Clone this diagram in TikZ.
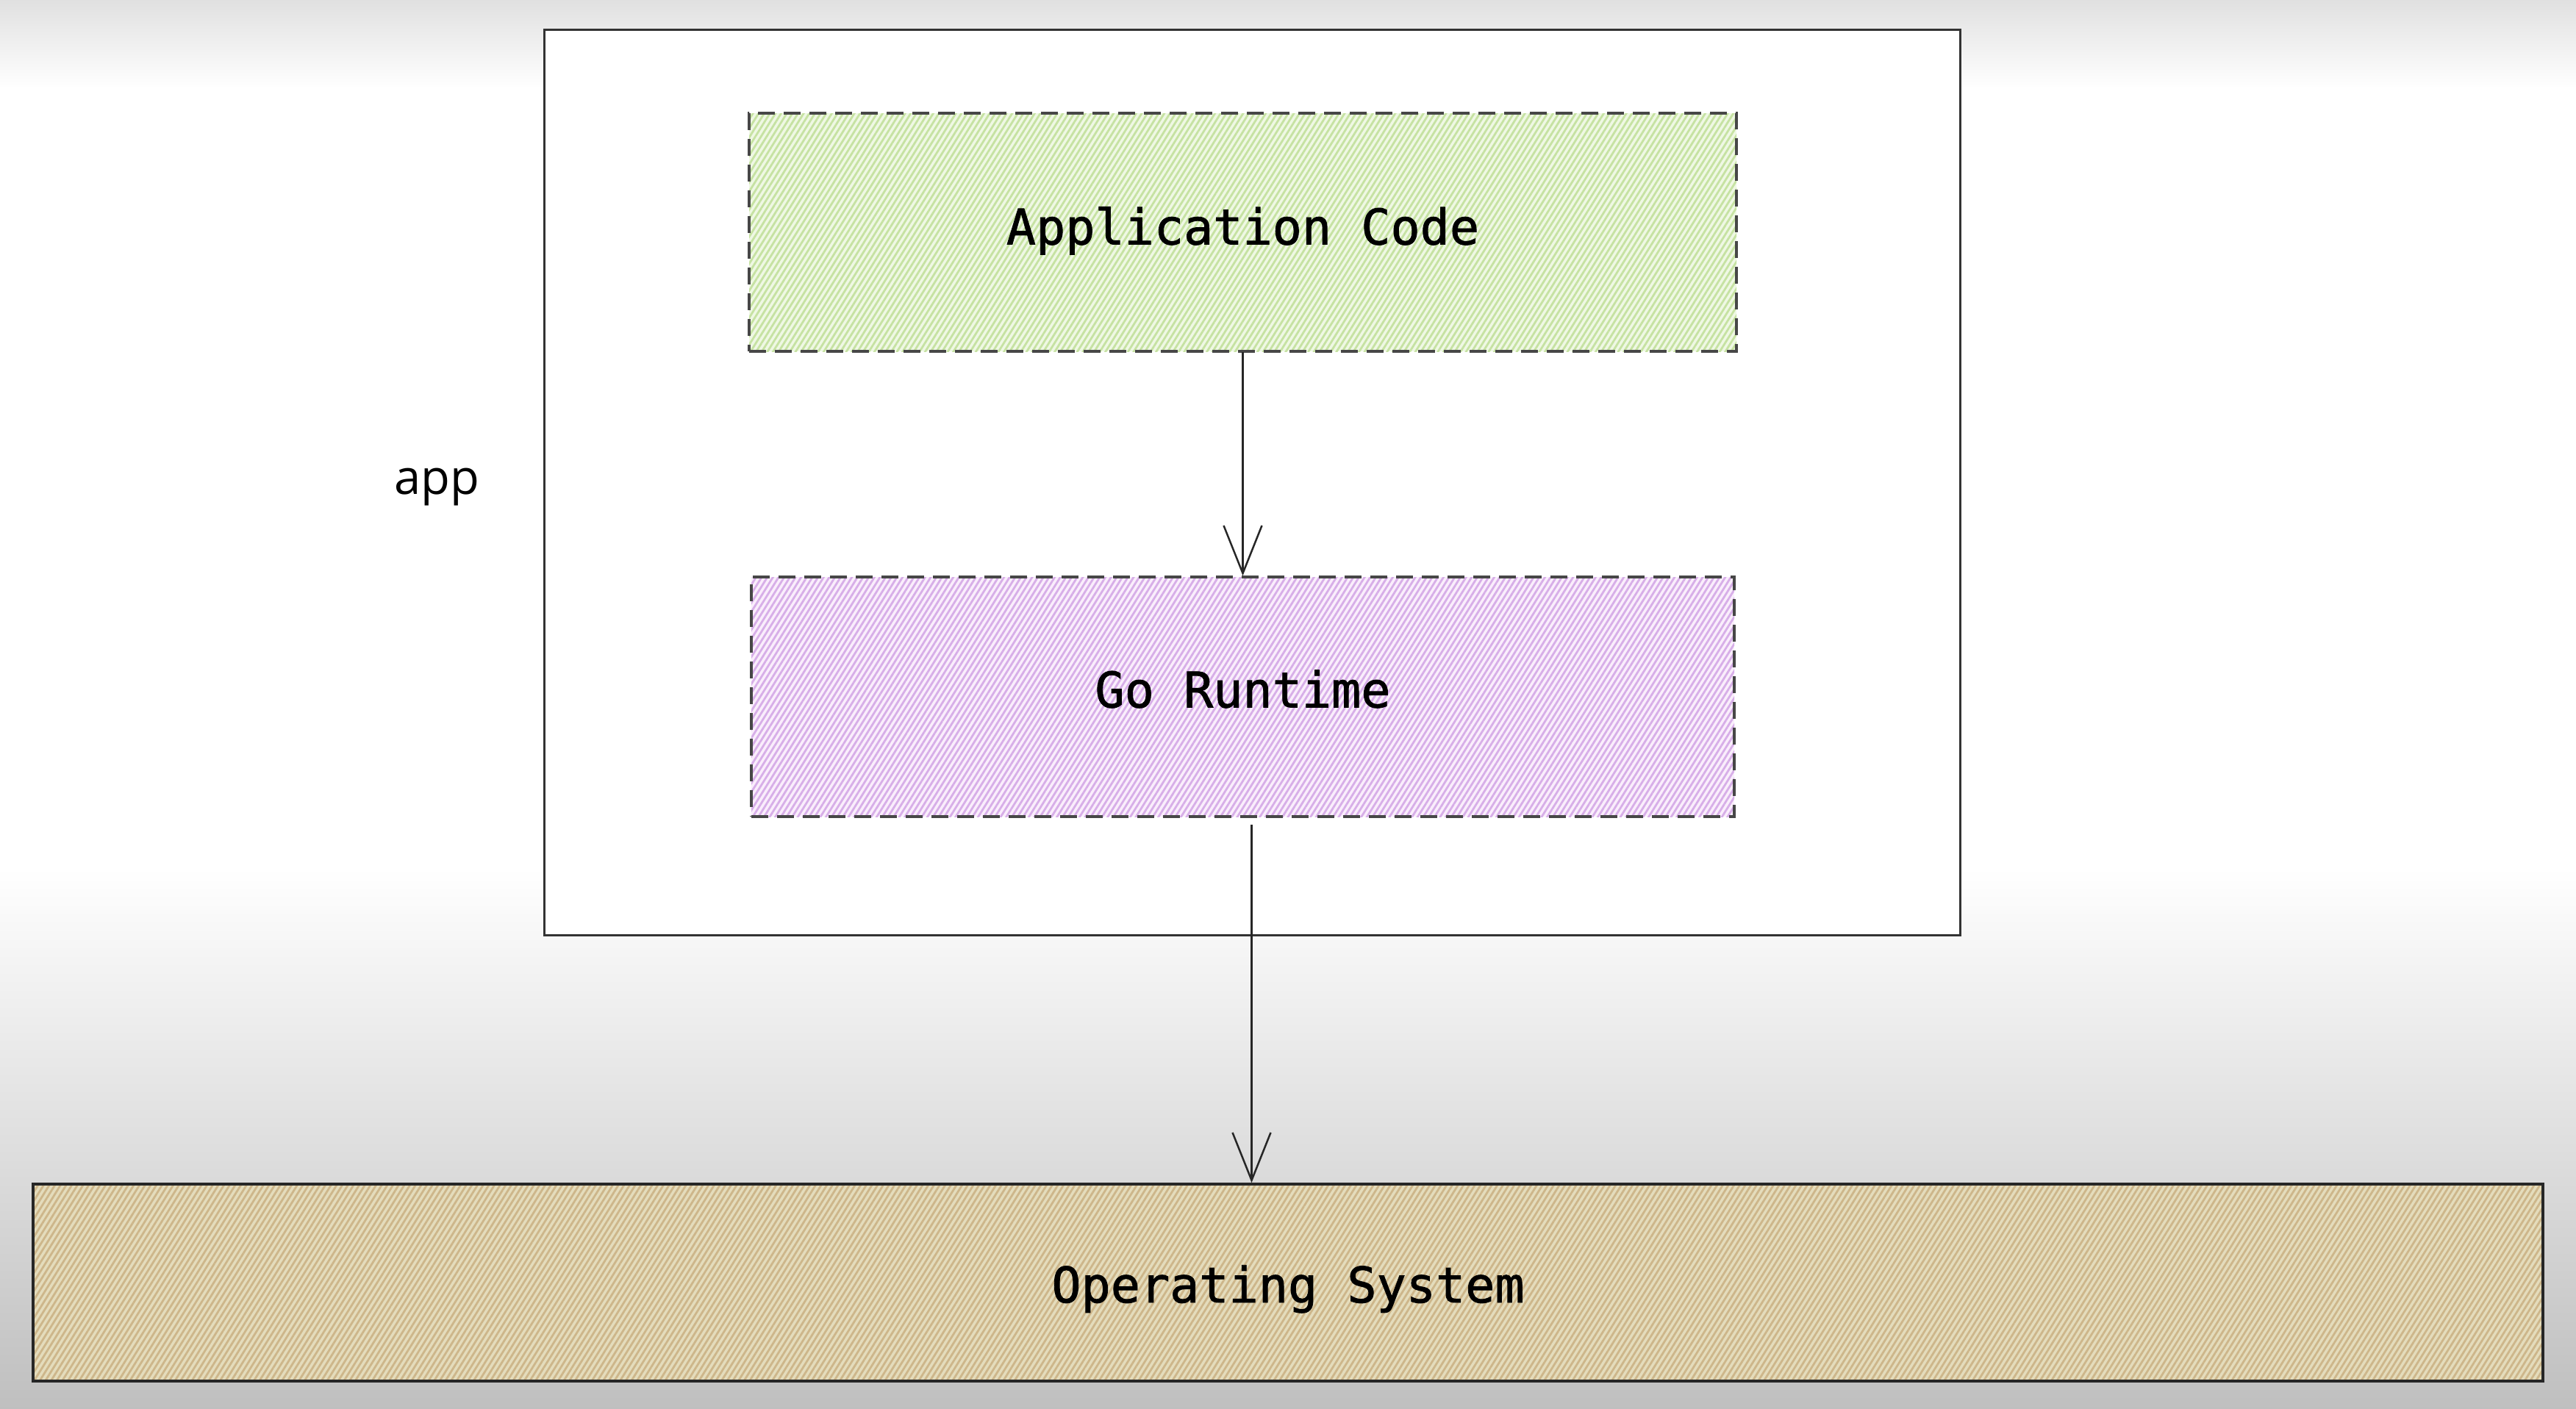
\documentclass[tikz,border=0pt]{standalone}
\usepackage{fontspec}
\setmonofont{DejaVu Sans Mono}[BoldFont={DejaVu Sans Mono},
  BoldFeatures={FakeBold=1.3}]
\setsansfont{Open Sans}
\usetikzlibrary{arrows.meta, positioning, patterns.meta}
\definecolor{codefill}{HTML}{EFF8E4}
\definecolor{codeline}{HTML}{C6E2A2}
\definecolor{rtfill}{HTML}{FAEEFC}
\definecolor{rtline}{HTML}{D7AEE8}
\definecolor{osfill}{HTML}{E4DCBC}
\definecolor{osline}{HTML}{CDB68A}
\tikzset{
  layer/.style    = {rectangle, draw=black!72, dash pattern=on 2.3mm off 1.2mm,
                     line width=0.4mm, inner sep=0pt, text depth=0pt,
                     font=\ttfamily\bfseries\fontsize{19}{22}\selectfont},
  hatch/.style    = {pattern={Lines[angle=58, distance=0.65mm, line width=0.28mm]}},
  codebox/.style  = {layer, hatch, preaction={fill=codefill}, pattern color=codeline,
                     minimum width=134.3mm, minimum height=32.4mm, text height=3.3mm},
  rtbox/.style    = {layer, hatch, preaction={fill=rtfill}, pattern color=rtline,
                     minimum width=133.7mm, minimum height=32.6mm, text height=2.8mm},
  osbox/.style    = {layer, hatch, solid, draw=black!85, line width=0.35mm,
                     preaction={fill=osfill}, pattern color=osline,
                     minimum width=341.4mm, minimum height=26.8mm, text height=5.4mm},
  appframe/.style = {rectangle, draw=black!80, fill=white, line width=0.3mm,
                     minimum width=192.6mm, minimum height=123.2mm},
  applab/.style   = {font=\sffamily\fontsize{18.5}{22}\selectfont,
                     text height=0pt, text depth=0pt},
  layarrow/.style = {-{Straight Barb[length=6.5mm, width=5.2mm]},
                     line width=0.25mm, draw=black!85},
}
\begin{document}
\begin{tikzpicture}
  % backdrop
  \fill[white] (0,0) rectangle (35.04,-19.16);
  \shade[top color=black!12, bottom color=white] (0,0) rectangle (35.04,-1.2);
  \shade[top color=white, bottom color=black!25] (0,-11.8) rectangle (35.04,-19.16);
  \useasboundingbox (0,0) rectangle (35.04,-19.16);

  \node[appframe] (frame) at (17.03,-6.56) {};
  \node[applab] (applabel) at (5.94,-6.72) {app};
  \node[codebox] (code) at (16.905,-3.16) {Application Code};
  \node[rtbox, below=30.4mm of code] (runtime) {Go Runtime};
  \node[osbox] (os) at (17.52,-17.45) {Operating System};

  \coordinate (rtout) at ([xshift=1.2mm]runtime.south);
  \draw[layarrow] (code) -- (runtime);
  \draw[layarrow, shorten <=0.9mm] (rtout) -- (rtout |- os.north);
\end{tikzpicture}
\end{document}
